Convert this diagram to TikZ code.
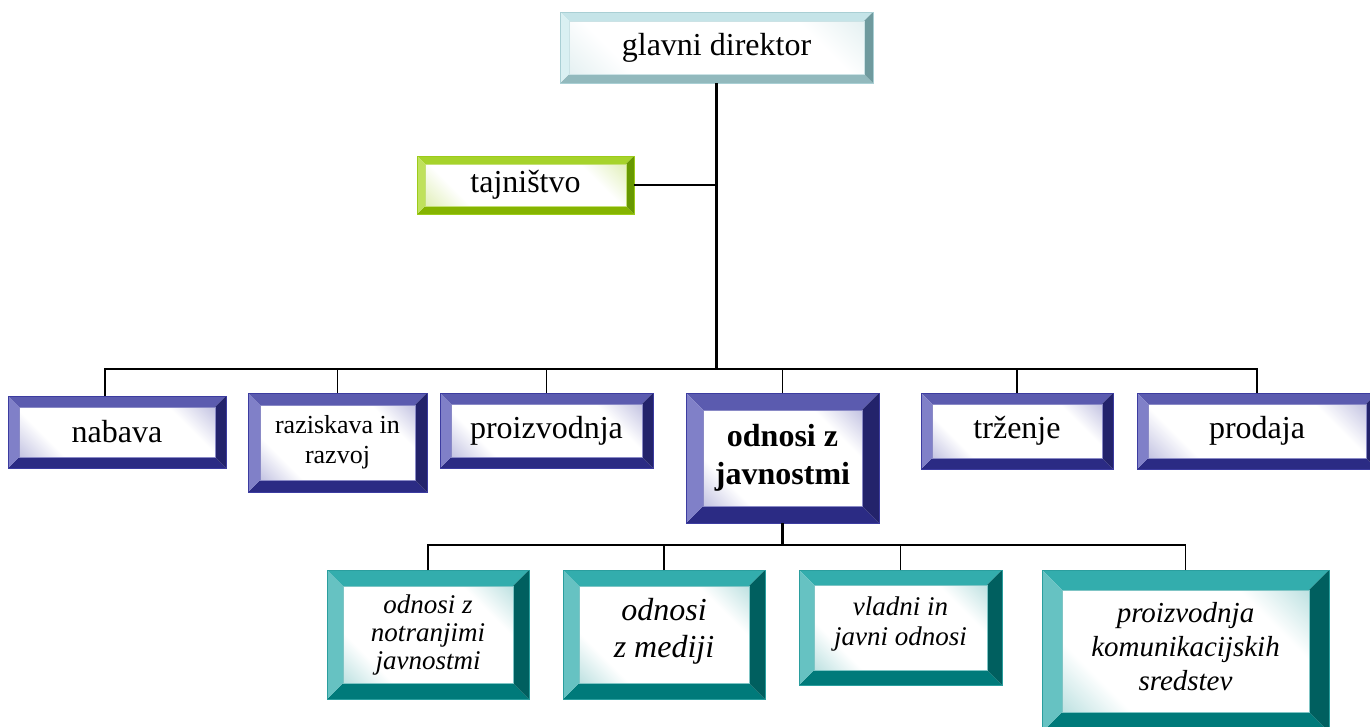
\documentclass[tikz,border=0pt]{standalone}
\usepackage{fontspec}
\setmainfont{Liberation Serif}
\usetikzlibrary{calc}

% bevel colours: top, left, right, bottom, edge
\definecolor{dirT}{HTML}{C5E4E8}\definecolor{dirL}{HTML}{DAF0F2}
\definecolor{dirR}{HTML}{6F9A9E}\definecolor{dirB}{HTML}{92B9BD}
\definecolor{dirE}{HTML}{A9CFD4}
\definecolor{grT}{HTML}{A6D32B}\definecolor{grL}{HTML}{BFE15C}
\definecolor{grR}{HTML}{679800}\definecolor{grB}{HTML}{85B400}
\definecolor{grE}{HTML}{9CCB1A}
\definecolor{nvT}{HTML}{5B5BAF}\definecolor{nvL}{HTML}{8080C8}
\definecolor{nvR}{HTML}{23236B}\definecolor{nvB}{HTML}{2B2B84}
\definecolor{nvE}{HTML}{3C3CA0}
\definecolor{tlT}{HTML}{33ADAD}\definecolor{tlL}{HTML}{66C2C2}
\definecolor{tlR}{HTML}{005F5F}\definecolor{tlB}{HTML}{007A7A}
\definecolor{tlE}{HTML}{2A9E9E}

% face of a box: tinted corners, white band across the middle
\colorlet{bevtint}{white}
\pgfdeclareverticalshading[bevtint]{bevelface}{100bp}{color(0bp)=(bevtint); color(4bp)=(bevtint); color(28bp)=(white); color(72bp)=(white); color(96bp)=(bevtint); color(100bp)=(bevtint)}

\tikzset{
  bevelbox/.style n args={6}{inner sep=0pt, outer sep=0pt, align=center,
    draw=#6, line width=0.6pt,
    path picture={
      \path (path picture bounding box.south west) coordinate (pa)
            (path picture bounding box.north east) coordinate (pb);
      \fill[#2] (pa |- pb) -- (pb) -- ($(pb)+(-#1,-#1)$) -- ($(pa |- pb)+(#1,-#1)$) -- cycle;
      \fill[#5] (pa) -- (pb |- pa) -- ($(pb |- pa)+(-#1,#1)$) -- ($(pa)+(#1,#1)$) -- cycle;
      \fill[#3] (pa) -- (pa |- pb) -- ($(pa |- pb)+(#1,-#1)$) -- ($(pa)+(#1,#1)$) -- cycle;
      \fill[#4] (pb |- pa) -- (pb) -- ($(pb)+(-#1,-#1)$) -- ($(pb |- pa)+(-#1,#1)$) -- cycle;
      \colorlet{bevtint}{#6!55!white}
      \shade[shading=bevelface, shading angle=-45] ($(pa)+(#1,#1)$) rectangle ($(pb)+(-#1,-#1)$);
      \draw[#6!60!white, line width=0.5pt] ($(pa)+(#1,#1)$) rectangle ($(pb)+(-#1,-#1)$);
    }},
  boss/.style={bevelbox={9pt}{dirT}{dirL}{dirR}{dirB}{dirE},
    font=\fontsize{32}{36}\selectfont},
  staff/.style={bevelbox={8pt}{grT}{grL}{grR}{grB}{grE},
    font=\fontsize{32}{36}\selectfont},
  unit/.style={bevelbox={#1}{nvT}{nvL}{nvR}{nvB}{nvE}},
  unit/.default=11pt,
  team/.style={bevelbox={#1}{tlT}{tlL}{tlR}{tlB}{tlE}},
  team/.default=16pt,
  link/.style={line width=1.8pt},
  trunk/.style={line width=3pt}
}

\begin{document}
\begin{tikzpicture}[x=1pt, y=-1pt]
  \useasboundingbox (0,0) rectangle (1370,726);

  % management
  \node[boss, minimum width=313pt, minimum height=71pt] (direktor) at (716.5,47.5) {glavni direktor};
  \node[staff, minimum width=217pt, minimum height=58pt] (tajnistvo) at (525.5,185) {tajništvo};

  % departments
  \node[unit, minimum width=218pt, minimum height=72pt, font=\fontsize{32}{36}\selectfont] (nabava) at (117,432) {nabava};
  \node[unit=12pt, minimum width=179pt, minimum height=99pt, font=\fontsize{26}{30}\selectfont] (razvoj) at (337.5,442.5) {raziskava in\\razvoj};
  \node[unit, minimum width=213pt, minimum height=75pt, font=\fontsize{32}{36}\selectfont] (proizvodnja) at (546.5,430.5) {proizvodnja};
  \node[unit=17pt, minimum width=193pt, minimum height=130pt, font=\fontsize{32}{38}\selectfont\bfseries] (odnosi) at (782.5,458) {odnosi z\\javnostmi};
  \node[unit, minimum width=192pt, minimum height=76pt, font=\fontsize{32}{36}\selectfont] (trzenje) at (1017,431) {trženje};
  \node[unit, minimum width=240pt, minimum height=76pt, font=\fontsize{32}{36}\selectfont] (prodaja) at (1257,431) {prodaja};

  % public relations teams
  \node[team, minimum width=202pt, minimum height=129pt, font=\fontsize{27}{28}\selectfont\itshape] (notranji) at (428,634.5) {odnosi z\\notranjimi\\javnostmi};
  \node[team, minimum width=202pt, minimum height=129pt, font=\fontsize{32}{37}\selectfont\itshape] (mediji) at (664,634.5) {odnosi\\z mediji\vphantom{g}\\[-24pt]};
  \node[team=15pt, minimum width=203pt, minimum height=115pt, font=\fontsize{27}{30}\selectfont\itshape] (vladni) at (900.5,627.5) {vladni in\\javni odnosi\\[-18pt]};
  \node[team=20pt, minimum width=287pt, minimum height=162pt, font=\fontsize{29}{34}\selectfont\itshape] (komunikacije) at (1185.5,651) {proizvodnja\\komunikacijskih\\sredstev\\[-24pt]};

  % connectors
  \coordinate (bus) at (direktor.south |- 0,369);
  \coordinate (bus2) at (odnosi.south |- 0,545);
  \coordinate (nabavatop) at ([xshift=-12pt]nabava.north);
  \draw[trunk] (direktor.south) -- (bus);
  \draw[link] (tajnistvo.east) -- (tajnistvo.east -| bus);
  \draw[link] (nabavatop) |- (bus);
  \foreach \n in {razvoj, proizvodnja, odnosi, trzenje, prodaja} { \draw[link] (\n.north) |- (bus); }
  \draw[trunk] (odnosi.south) -- (bus2);
  \foreach \n in {notranji, mediji, vladni, komunikacije} { \draw[link] (\n.north) |- (bus2); }
\end{tikzpicture}
\end{document}
